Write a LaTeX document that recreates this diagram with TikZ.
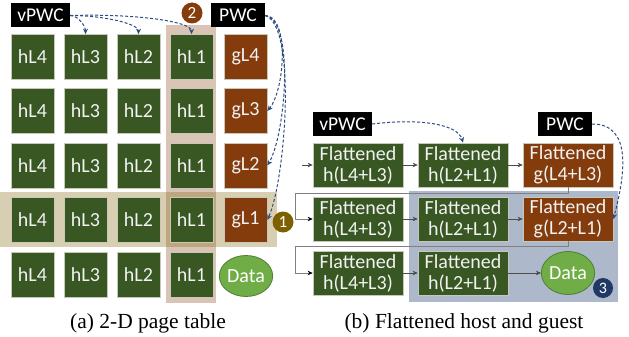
\documentclass[tikz,border=0pt]{standalone}
\usepackage{fontspec}
\setmainfont{Liberation Serif}
\newfontfamily\carl{Carlito}
\usetikzlibrary{arrows.meta,shapes.geometric}
\definecolor{hgreen}{HTML}{385723}
\definecolor{gbrown}{HTML}{843C0C}
\definecolor{olivec}{HTML}{7F6000}
\definecolor{nblue}{HTML}{1F3864}
\definecolor{dblue}{HTML}{2F4C80}
\definecolor{bgray}{HTML}{ADB9CA}
\definecolor{dgreen}{HTML}{70AD47}
\definecolor{dborder}{HTML}{507E32}
\definecolor{bd}{HTML}{C8C8B8}
\definecolor{tw}{HTML}{F2F2F2}
\begin{document}
\begin{tikzpicture}[x=1pt,y=-1pt,
  hb/.style={fill=hgreen, draw=bd, line width=0.7pt, text=tw, font=\carl\fontsize{20}{21}\selectfont,
    minimum width=43pt, minimum height=45pt, inner sep=0pt, align=center},
  gbx/.style={hb, fill=gbrown},
  fb/.style={hb, minimum width=90pt, minimum height=44pt},
  fg/.style={fb, fill=gbrown},
  cmd/.style={fill=black, text=white, font=\carl\fontsize{19.5}{21}\selectfont, minimum height=24pt, inner sep=0pt},
  dat/.style={ellipse, fill=dgreen, draw=dborder, line width=0.8pt, text=white, font=\carl\fontsize{20}{21}\selectfont,
    minimum width=50pt, minimum height=41pt, inner sep=0pt},
  num/.style={circle, text=white, font=\carl\fontsize{17}{17}\selectfont, minimum size=21pt, inner sep=0pt},
  dasharr/.style={draw=dblue, dash pattern=on 3pt off 2pt, line width=1pt, -{Stealth[length=5.5pt,width=5pt]}},
  conn/.style={draw=black!70, line width=0.7pt, -{Stealth[length=5pt,width=4.5pt,fill=black]}},
  route/.style={draw=gray, line width=0.7pt, -{Stealth[length=5pt,width=4.5pt,color=black]}},
  captxt/.style={font=\fontsize{21.5}{23}\selectfont, inner sep=0pt}
]
\useasboundingbox (0,0) rectangle (629,337);
% highlights (a)
\fill[gbrown, opacity=.3] (166,25) rectangle (216,303);
\fill[olivec, opacity=.3] (0,192) rectangle (277,247);
% grid (a)
\foreach \r/\y in {1/57,2/111,3/165.5,4/220,5/274.5}{
  \node[hb] (a4\r) at (32.5,\y) {hL4};
  \node[hb] (a3\r) at (85.5,\y) {hL3};
  \node[hb] (a2\r) at (138.5,\y) {hL2};
  \node[hb] (a1\r) at (191.5,\y) {hL1};
}
\foreach \r/\y/\l in {1/57/4,2/111/3,3/165.5/2,4/220/1}{
  \node[gbx] (g\r) at (245.5,\y) {gL\l};
}
\node[dat] (da) at (246,276) {Data};
\node[cmd, minimum width=59pt] (va) at (40.5,15.5) {vPWC};
\node[cmd, minimum width=54pt] (pa) at (238,15.5) {PWC};
\node[num, fill=gbrown] (n2) at (192,13) {2};
\node[num, fill=olivec] (n1) at (283,222) {1};
% dashed (a)
\draw[dasharr] (va.east) .. controls +(8,0) and +(0,-8) .. (a31.north);
\draw[dasharr] (va.east) .. controls +(35,0) and +(0,-10) .. (a21.north);
\draw[dasharr] (va.east) .. controls +(70,-2) and +(0,-12) .. (a11.north);
\draw[dasharr] (pa.east) .. controls +(24,0) and +(18,-22) .. (g2.east);
\draw[dasharr] (pa.east) .. controls +(30,5) and +(18,-30) .. (g3.east);
\draw[dasharr] (pa.east) .. controls +(32,10) and +(18,-40) .. (g4.east);
\node[captxt] (capa) at (148,323) {(a) 2-D page table};
% (b)
\fill[bgray] (409,191) rectangle (618,302);
\node[fb] (f11) at (358,165) {Flattened\\h(L4+L3)};
\node[fb] (f12) at (463,165) {Flattened\\h(L2+L1)};
\node[fg] (f13) at (568,165) {Flattened\\g(L4+L3)};
\node[fb] (f21) at (358,219) {Flattened\\h(L4+L3)};
\node[fb] (f22) at (463,219) {Flattened\\h(L2+L1)};
\node[fg] (f23) at (568,219) {Flattened\\g(L2+L1)};
\node[fb] (f31) at (358,273) {Flattened\\h(L4+L3)};
\node[fb] (f32) at (463,273) {Flattened\\h(L2+L1)};
\node[dat, minimum width=51pt, minimum height=43pt] (db) at (568,273) {Data};
\node[num, fill=nblue, minimum size=20pt, font=\carl\fontsize{16}{16}\selectfont] (n3) at (603,288) {3};
\node[cmd, minimum width=59pt] (vb) at (342.5,124) {vPWC};
\node[cmd, minimum width=54pt] (pb) at (565,124) {PWC};
\coordinate (in1) at (302,165);
\coordinate (r1) at (295,193);
\coordinate (r2) at (295,246);
\draw[conn] (in1) -- (f11);
\draw[conn] (f11) -- (f12);
\draw[conn] (f12) -- (f13);
\draw[conn] (f21) -- (f22);
\draw[conn] (f22) -- (f23);
\draw[conn] (f31) -- (f32);
\draw[conn] (f32) -- (db);
\draw[route] (f13.south) |- (r1) |- (f21.west);
\draw[route] (f23.south) |- (r2) |- (f31.west);
\draw[dasharr] (vb.east) .. controls +(50,-6) and +(-5,-18) .. (f12.north);
\draw[dasharr] (pb.east) .. controls +(40,0) and +(12,-45) .. (f23.east);
\node[captxt] (capb) at (464,323) {(b) Flattened host and guest};
\end{tikzpicture}
\end{document}
